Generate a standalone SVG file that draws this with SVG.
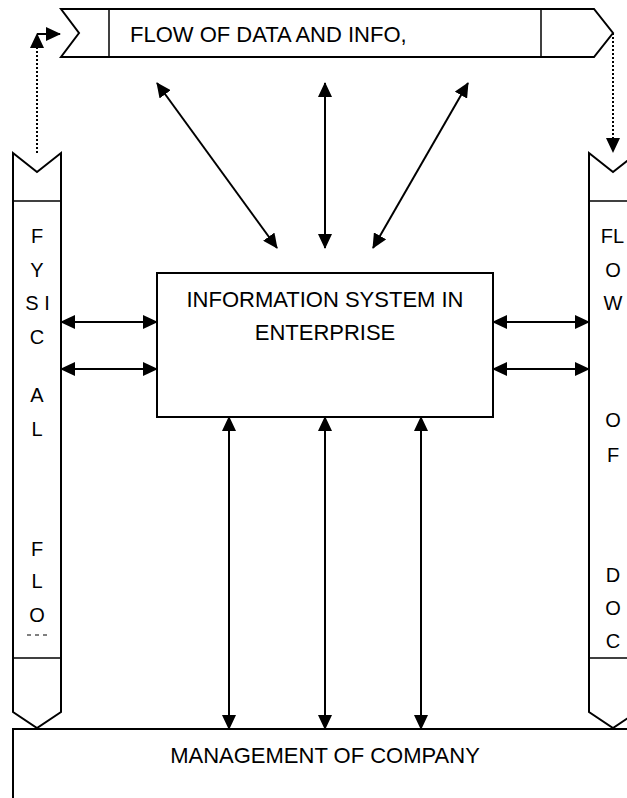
<svg xmlns="http://www.w3.org/2000/svg" width="627" height="798" viewBox="0 0 627 798">
<style>
  .shape { fill: #ffffff; stroke: #000000; stroke-width: 2; }
  .thin { fill: none; stroke: #000000; stroke-width: 1.5; }
  .lbl { font-family: "Liberation Sans", Arial, sans-serif; font-size: 22px; fill: #000000; }
  .ltr { font-family: "Liberation Sans", Arial, sans-serif; font-size: 20px; fill: #000000; text-anchor: middle; }
  .conn { fill: none; stroke: #000000; stroke-width: 2; }
  .dot { fill: none; stroke: #000000; stroke-width: 2; stroke-dasharray: 2 2; }
</style>
<defs>
  <marker id="ah" viewBox="0 0 15 14" refX="14" refY="7" markerWidth="15" markerHeight="14" markerUnits="userSpaceOnUse" orient="auto-start-reverse">
    <path d="M0,0 L15,7 L0,14 z" fill="#000000"/>
  </marker>
</defs>
<rect width="627" height="798" fill="#ffffff"/>

<g id="flow-data">
  <path class="shape" d="M61,9 H594 L613,33 L594,57 H61 L79,33 Z"/>
  <line class="thin" x1="109" y1="9" x2="109" y2="57"/>
  <line class="thin" x1="541" y1="9" x2="541" y2="57"/>
  <text class="lbl" x="130" y="42">FLOW OF DATA AND INFO,</text>
</g>

<g id="physical-flow">
  <path class="shape" d="M13,153 L37,172 L61,153 V712 L37,728 L13,712 Z"/>
  <line class="thin" x1="13" y1="201" x2="61" y2="201"/>
  <line class="thin" x1="13" y1="658" x2="61" y2="658"/>
  <text class="ltr" x="37" y="243">F</text>
  <text class="ltr" x="37" y="277">Y</text>
  <text class="ltr" x="37.5" y="310">S I</text>
  <text class="ltr" x="37" y="344">C</text>
  <text class="ltr" x="37" y="402">A</text>
  <text class="ltr" x="37" y="436">L</text>
  <text class="ltr" x="37" y="556">F</text>
  <text class="ltr" x="37" y="588">L</text>
  <text class="ltr" x="37" y="622">O</text>
  <path d="M27,635 H48" fill="none" stroke="#000000" stroke-width="1" stroke-dasharray="4 4"/>
</g>

<g id="flow-doc">
  <path class="shape" d="M589,153 L613,172 L637,153 V712 L613,728 L589,712 Z"/>
  <line class="thin" x1="589" y1="201" x2="637" y2="201"/>
  <line class="thin" x1="589" y1="658" x2="637" y2="658"/>
  <text class="ltr" x="612.5" y="243">FL</text>
  <text class="ltr" x="613" y="277">O</text>
  <text class="ltr" x="613" y="310">W</text>
  <text class="ltr" x="613" y="427">O</text>
  <text class="ltr" x="613" y="462">F</text>
  <text class="ltr" x="613" y="582">D</text>
  <text class="ltr" x="613" y="615">O</text>
  <text class="ltr" x="613" y="648">C</text>
</g>

<g id="info-system">
  <rect class="shape" x="157" y="273" width="336" height="144"/>
  <text class="lbl" x="325" y="307" text-anchor="middle">INFORMATION SYSTEM IN</text>
  <text class="lbl" x="325" y="340" text-anchor="middle">ENTERPRISE</text>
</g>

<g id="management">
  <rect class="shape" x="13" y="729" width="640" height="100"/>
  <text class="lbl" x="325" y="763" text-anchor="middle" fill="#111111">MANAGEMENT OF COMPANY</text>
</g>

<g id="connectors">
  <path class="dot" d="M37,153 V34" marker-end="url(#ah)"/>
  <path class="conn" d="M37,34 H60" marker-end="url(#ah)"/>
  <path class="dot" d="M613,33 V152" marker-end="url(#ah)"/>

  <line class="conn" x1="157" y1="83" x2="277" y2="248" marker-start="url(#ah)" marker-end="url(#ah)"/>
  <line class="conn" x1="325" y1="83" x2="325" y2="248" marker-start="url(#ah)" marker-end="url(#ah)"/>
  <line class="conn" x1="468" y1="83" x2="373" y2="248" marker-start="url(#ah)" marker-end="url(#ah)"/>

  <line class="conn" x1="61" y1="322" x2="157" y2="322" marker-start="url(#ah)" marker-end="url(#ah)"/>
  <line class="conn" x1="61" y1="369" x2="157" y2="369" marker-start="url(#ah)" marker-end="url(#ah)"/>
  <line class="conn" x1="493" y1="322" x2="589" y2="322" marker-start="url(#ah)" marker-end="url(#ah)"/>
  <line class="conn" x1="493" y1="369" x2="589" y2="369" marker-start="url(#ah)" marker-end="url(#ah)"/>

  <line class="conn" x1="229" y1="417" x2="229" y2="729" marker-start="url(#ah)" marker-end="url(#ah)"/>
  <line class="conn" x1="325" y1="417" x2="325" y2="729" marker-start="url(#ah)" marker-end="url(#ah)"/>
  <line class="conn" x1="421" y1="417" x2="421" y2="729" marker-start="url(#ah)" marker-end="url(#ah)"/>
</g>
</svg>
